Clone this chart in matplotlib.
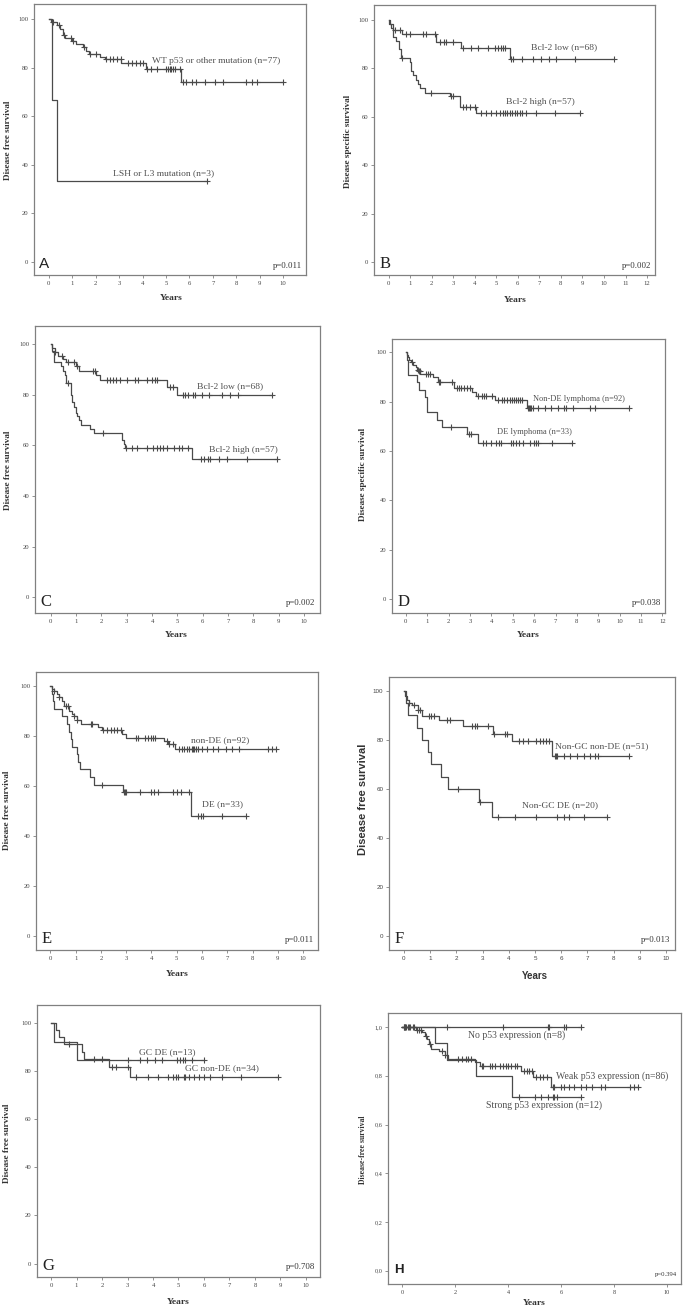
import numpy as np
import matplotlib
matplotlib.use("Agg")
import matplotlib.pyplot as plt

plt.rcParams["font.family"] = ["Liberation Serif", "DejaVu Serif"]

W, H = 685, 1310

# ---------------- data (times in years, survival in %) ----------------
# A: p53 mutation status, disease free survival
A_wt_t = [0.1, 0.35, 0.5, 0.6, 0.7, 1.0, 1.15, 1.45, 1.6, 1.7, 2.2, 2.4, 3.1, 4.15, 5.65]
A_wt_s = [98.7, 97.4, 96.1, 93.5, 92.2, 90.9, 89.6, 88.3, 87.0, 85.7, 84.4, 83.5, 82.0, 79.6, 74.0]
A_wt_end = 10.0
A_wt_c = [0.2, 0.45, 0.65, 0.95, 1.05, 1.5, 1.75, 2.03, 2.43, 2.6, 2.75, 2.89, 3.06, 3.39, 3.53,
          3.74, 3.88, 4.03, 4.17, 4.38, 4.6, 5.02, 5.09, 5.16, 5.23, 5.3, 5.38, 5.59, 5.73, 5.87,
          6.09, 6.3, 6.66, 7.08, 7.41, 8.43, 8.65, 8.9, 10.0]
A_lsh_t = [0.15, 0.33]
A_lsh_s = [66.7, 33.3]
A_lsh_end = 6.75
A_lsh_c = [6.75]

# B: Bcl-2, disease specific survival
B_low_t = [0.05, 0.2, 0.62, 2.21, 3.37, 5.65]
B_low_s = [98.5, 95.9, 94.2, 90.8, 88.6, 83.9]
B_low_end = 10.45
B_low_c = [0.28, 0.51, 0.82, 1.0, 1.6, 1.72, 2.14, 2.37, 2.55, 2.68, 2.99, 3.45, 3.84, 4.15, 4.61,
           4.92, 5.08, 5.23, 5.31, 5.42, 5.7, 5.77, 6.21, 6.7, 7.06, 7.43, 7.79, 8.64, 10.45]
B_high_t = [0.03, 0.1, 0.2, 0.35, 0.5, 0.59, 0.98, 1.05, 1.15, 1.25, 1.35, 1.45, 1.7, 2.83, 3.33, 4.07]
B_high_s = [98.2, 96.5, 93.0, 91.2, 88.0, 84.2, 82.5, 79.0, 77.2, 75.4, 73.5, 71.8, 70.0, 68.4, 64.0, 61.5]
B_high_end = 8.9
B_high_c = [0.62, 1.98, 2.88, 2.99, 3.45, 3.6, 3.8, 4.0, 4.3, 4.53, 4.77, 5.0, 5.15, 5.31, 5.39,
            5.51, 5.62, 5.74, 5.85, 5.98, 6.08, 6.21, 6.39, 6.86, 7.71, 8.9]

# C: Bcl-2, disease free survival
C_low_t = [0.05, 0.15, 0.3, 0.5, 0.6, 1.0, 1.1, 1.8, 1.95, 4.58, 5.0]
C_low_s = [98.5, 97.0, 95.5, 94.0, 92.8, 91.3, 89.5, 88.0, 85.8, 83.2, 80.0]
C_low_end = 8.72
C_low_c = [0.17, 0.43, 0.7, 0.92, 1.05, 1.66, 1.75, 2.21, 2.34, 2.47, 2.58, 2.74, 3.0, 3.33, 3.46,
           3.79, 3.99, 4.12, 4.18, 4.71, 4.84, 5.21, 5.3, 5.43, 5.63, 5.7, 5.96, 6.26, 6.75, 7.08,
           7.41, 8.72]
C_high_t = [0.05, 0.12, 0.4, 0.48, 0.55, 0.62, 0.8, 0.85, 0.92, 0.98, 1.05, 1.12, 1.2, 1.55, 1.7,
            2.8, 2.88, 2.95, 5.57]
C_high_s = [97.5, 93.0, 91.2, 89.5, 87.7, 84.5, 80.0, 77.0, 75.0, 73.0, 71.5, 70.0, 68.1, 66.5,
            64.8, 62.0, 60.5, 59.1, 54.5]
C_high_end = 8.92
C_high_c = [0.67, 2.05, 2.97, 3.2, 3.4, 3.8, 4.05, 4.2, 4.3, 4.45, 4.6, 4.85, 5.05, 5.2, 5.4, 5.95,
            6.05, 6.2, 6.3, 6.65, 6.95, 7.75, 8.92]

# D: DE lymphoma, disease specific survival
D_non_t = [0.03, 0.08, 0.15, 0.25, 0.35, 0.45, 0.5, 0.6, 0.68, 1.25, 1.5, 2.25, 3.1, 3.3, 4.17, 5.65]
D_non_s = [99.0, 98.0, 97.0, 96.0, 95.0, 94.0, 93.0, 92.3, 91.4, 90.0, 87.9, 85.4, 84.0, 82.3,
           80.7, 77.6]
D_non_end = 10.45
D_non_c = [0.3, 0.55, 0.62, 0.66, 0.95, 1.05, 1.15, 1.55, 1.6, 2.15, 2.4, 2.5, 2.6, 2.7, 2.85, 3.0,
           3.35, 3.55, 3.65, 3.75, 4.05, 4.3, 4.5, 4.6, 4.75, 4.85, 4.95, 5.05, 5.15, 5.25, 5.35,
           5.45, 5.7, 5.75, 5.8, 5.85, 5.95, 6.2, 6.5, 6.8, 7.1, 7.4, 7.5, 7.8, 8.6, 8.85, 10.45]
D_de_t = [0.05, 0.1, 0.12, 0.5, 0.59, 0.9, 1.01, 1.45, 1.68, 2.85, 3.36]
D_de_s = [97.0, 94.0, 90.9, 87.9, 84.8, 81.8, 75.8, 72.7, 69.7, 66.7, 63.2]
D_de_end = 7.75
D_de_c = [2.1, 2.95, 3.05, 3.6, 3.75, 4.0, 4.2, 4.35, 4.45, 4.9, 5.0, 5.15, 5.3, 5.5, 5.8, 6.0,
          6.1, 6.2, 6.85, 7.75]

# E: DE, disease free survival
E_non_t = [0.05, 0.15, 0.25, 0.35, 0.45, 0.55, 0.75, 0.85, 0.95, 1.05, 1.2, 1.9, 2.05, 2.85, 3.0,
           4.5, 4.65, 4.95]
E_non_s = [99.0, 98.0, 97.0, 95.5, 94.0, 92.0, 90.0, 89.0, 88.0, 86.5, 84.7, 83.5, 82.3, 81.0,
           79.2, 78.0, 77.0, 75.0]
E_non_end = 8.92
E_non_c = [0.15, 0.35, 0.6, 0.7, 0.95, 1.05, 1.6, 1.65, 2.1, 2.25, 2.4, 2.5, 2.65, 2.8, 3.4, 3.45,
           3.75, 3.85, 4.0, 4.05, 4.15, 4.6, 4.7, 4.85, 5.1, 5.2, 5.3, 5.4, 5.5, 5.6, 5.65, 5.7,
           5.75, 5.85, 6.0, 6.2, 6.45, 6.65, 6.95, 7.2, 7.45, 8.6, 8.75, 8.92]
E_de_t = [0.05, 0.1, 0.15, 0.46, 0.66, 0.75, 0.8, 0.85, 1.05, 1.1, 1.18, 1.55, 1.71, 2.87, 5.55]
E_de_s = [97.0, 94.0, 90.9, 87.9, 84.8, 81.8, 78.8, 75.8, 72.7, 69.7, 66.7, 63.6, 60.6, 57.6, 48.0]
E_de_end = 7.75
E_de_c = [2.05, 2.9, 2.95, 3.0, 3.55, 4.0, 4.1, 4.25, 4.85, 5.0, 5.15, 5.5, 5.85, 5.95, 6.05,
          6.8, 7.75]

# F: non-GC subgroups, disease free survival
F_non_t = [0.05, 0.1, 0.2, 0.3, 0.55, 0.67, 1.34, 2.26, 3.41, 4.11, 5.64]
F_non_s = [98.0, 96.1, 95.0, 94.0, 92.0, 89.9, 88.0, 85.6, 82.5, 79.6, 73.4]
F_non_end = 8.6
F_non_c = [0.2, 0.4, 0.55, 0.6, 0.95, 1.05, 1.15, 1.65, 1.75, 2.6, 2.7, 2.8, 3.2, 3.42, 3.85, 3.95,
           4.4, 4.55, 4.75, 5.05, 5.2, 5.3, 5.4, 5.55, 5.75, 5.8, 5.85, 6.1, 6.35, 6.6, 6.85, 7.1,
           7.3, 7.4, 8.6]
F_de_t = [0.08, 0.15, 0.48, 0.67, 0.93, 1.03, 1.4, 1.69, 2.88, 3.37]
F_de_s = [95.0, 90.0, 85.0, 80.0, 75.0, 70.0, 65.0, 60.0, 54.5, 48.5]
F_de_end = 7.74
F_de_c = [2.05, 2.9, 3.6, 4.25, 5.05, 5.85, 6.1, 6.3, 6.85, 7.74]

# G: GC subgroups, disease free survival
G_de_t = [0.1, 1.02]
G_de_s = [92.3, 84.6]
G_de_end = 6.0
G_de_c = [3.0, 3.5, 3.76, 4.06, 4.37, 4.93, 5.07, 5.17, 5.26, 5.52, 6.0]
G_non_t = [0.2, 0.3, 0.5, 1.22, 1.28, 2.26, 3.1]
G_non_s = [97.1, 94.1, 91.2, 88.2, 85.3, 81.8, 77.5]
G_non_end = 8.92
G_non_c = [0.7, 1.7, 2.0, 2.4, 2.55, 3.0, 3.35, 3.8, 4.2, 4.6, 4.8, 4.9, 5.0, 5.2, 5.25, 5.4, 5.6,
           5.8, 6.0, 6.25, 6.7, 7.45, 8.92]

# H: p53 expression, disease-free survival (proportion)
H_no_t = []
H_no_s = []
H_no_end = 6.75
H_no_c = [0.05, 0.1, 1.7, 3.8, 5.5, 5.55, 6.1, 6.2, 6.75]
H_weak_t = [0.5, 0.75, 0.85, 0.95, 1.02, 1.1, 1.4, 1.6, 1.72, 2.75, 2.95, 4.5, 4.95, 5.6]
H_weak_s = [0.99, 0.98, 0.965, 0.95, 0.93, 0.91, 0.90, 0.885, 0.87, 0.855, 0.84, 0.82, 0.797, 0.756]
H_weak_end = 8.9
H_weak_c = [0.05, 0.1, 0.15, 0.2, 0.25, 0.3, 0.4, 0.45, 0.55, 0.65, 0.7, 0.9, 1.05, 1.5, 1.6, 2.1,
            2.25, 2.4, 2.5, 2.6, 3.0, 3.05, 3.3, 3.4, 3.5, 3.7, 3.8, 3.9, 4.0, 4.1, 4.25, 4.35,
            4.6, 4.7, 4.8, 4.9, 5.05, 5.2, 5.3, 5.45, 5.7, 5.75, 6.0, 6.1, 6.3, 6.5, 6.75, 6.95,
            7.15, 7.5, 7.65, 8.6, 8.75, 8.9]
H_strong_t = [1.22, 1.7, 2.78, 4.13]
H_strong_s = [0.933, 0.867, 0.80, 0.715]
H_strong_end = 6.75
H_strong_c = [4.4, 5.0, 5.25, 5.5, 5.7, 5.75, 5.85, 6.75]

LINE = "#4a4a4a"
FRAME = "#808080"
TXT = "#505050"


def box(l, r, t, b):
    # pixel box -> figure fraction rect
    return [l / W, 1 - b / H, (r - l) / W, (b - t) / H]


def km(ax, t, s, end, cens, start=100.0):
    xs = [0.0] + list(t) + [end]
    ys = [start] + list(s) + [s[-1] if s else start]
    ax.step(xs, ys, where="post", color=LINE, lw=0.9)
    levels = np.array([start] + list(s))
    idx = np.searchsorted(np.array(t, dtype=float), np.array(cens), side="right")
    ax.plot(cens, levels[idx], ls="none", marker="+", ms=4.5, mew=0.8, color=LINE)


def fig_text(x, y, s, **kw):
    fig.text(x / W, 1 - y / H, s, **kw)


fig = plt.figure(figsize=(W / 100, H / 100), dpi=100)

panels = [
    dict(letter="A", box=(34, 306, 4, 275), xlim=(-0.63, 10.97), ylim=(-5.5, 106.2), xmax=10,
         curves=[(A_wt_t, A_wt_s, A_wt_end, A_wt_c), (A_lsh_t, A_lsh_s, A_lsh_end, A_lsh_c)],
         labels=[("WT p53 or other mutation (n=77)", 4.4, 82.7),
                 ("LSH or L3 mutation (n=3)", 2.75, 36.5)],
         p="p=0.011", ylabel="Disease free survival", ylpos=(8, 140), yrpos=(171, 298)),
    dict(letter="B", box=(374, 655, 5, 275), xlim=(-0.68, 12.37), ylim=(-5.4, 106.2), xmax=12,
         curves=[(B_low_t, B_low_s, B_low_end, B_low_c), (B_high_t, B_high_s, B_high_end, B_high_c)],
         labels=[("Bcl-2 low (n=68)", 6.63, 88.7), ("Bcl-2 high (n=57)", 5.46, 66.3)],
         p="p=0.002", ylabel="Disease specific survival", ylpos=(348, 141), yrpos=(515, 300)),
    dict(letter="C", box=(35, 320, 326, 613), xlim=(-0.62, 10.63), ylim=(-6.2, 107.2), xmax=10,
         curves=[(C_low_t, C_low_s, C_low_end, C_low_c), (C_high_t, C_high_s, C_high_end, C_high_c)],
         labels=[("Bcl-2 low (n=68)", 5.76, 83.4), ("Bcl-2 high (n=57)", 6.26, 58.2)],
         p="p=0.002", ylabel="Disease free survival", ylpos=(8, 470), yrpos=(176, 635)),
    dict(letter="D", box=(392, 665, 339, 613), xlim=(-0.65, 12.12), ylim=(-5.7, 105.4), xmax=12,
         curves=[(D_non_t, D_non_s, D_non_end, D_non_c), (D_de_t, D_de_s, D_de_end, D_de_c)],
         labels=[("Non-DE lymphoma (n=92)", 5.93, 81.0), ("DE lymphoma (n=33)", 4.25, 67.5)],
         p="p=0.038", ylabel="Disease specific survival", ylpos=(363, 474), yrpos=(528, 635),
         lfs=6.0),
    dict(letter="E", box=(36, 318, 672, 950), xlim=(-0.57, 10.59), ylim=(-5.6, 105.6), xmax=10,
         curves=[(E_non_t, E_non_s, E_non_end, E_non_c), (E_de_t, E_de_s, E_de_end, E_de_c)],
         labels=[("non-DE (n=92)", 5.55, 78.3), ("DE (n=33)", 5.99, 52.7)],
         p="p=0.011", ylabel="Disease free survival", ylpos=(7, 810), yrpos=(177, 974)),
    dict(letter="F", box=(389, 675, 677, 950), xlim=(-0.57, 10.34), ylim=(-5.7, 105.6), xmax=10,
         curves=[(F_non_t, F_non_s, F_non_end, F_non_c), (F_de_t, F_de_s, F_de_end, F_de_c)],
         labels=[("Non-GC non-DE (n=51)", 5.76, 77.3), ("Non-GC DE (n=20)", 4.49, 53.2)],
         p="p=0.013", ylabel="Disease free survival", ylpos=(363, 799), yrpos=(535, 976),
         sans=True),
    dict(letter="G", box=(37, 320, 1005, 1277), xlim=(-0.55, 10.55), ylim=(-5.6, 107.6), xmax=10,
         curves=[(G_de_t, G_de_s, G_de_end, G_de_c), (G_non_t, G_non_s, G_non_end, G_non_c)],
         labels=[("GC DE (n=13)", 3.47, 87.8), ("GC non-DE (n=34)", 5.26, 81.3)],
         p="p=0.708", ylabel="Disease free survival", ylpos=(7, 1143), yrpos=(178, 1302)),
]

for pnl in panels:
    ax = fig.add_axes(box(*pnl["box"]))
    for t, s, end, c in pnl["curves"]:
        km(ax, t, s, end, c)
    ax.set_xlim(*pnl["xlim"])
    ax.set_ylim(*pnl["ylim"])
    ax.set_xticks(range(0, pnl["xmax"] + 1))
    ax.set_yticks([0, 20, 40, 60, 80, 100])
    for lab, x, y in pnl["labels"]:
        ax.text(x, y, lab, fontsize=pnl.get("lfs", 6.8), color=TXT, va="center", ha="left")
    ax.text(0.985, 0.035, pnl["p"], transform=ax.transAxes, ha="right", va="center",
            fontsize=6.3, color="#333333")
    if pnl["letter"] == "A":
        ax.text(0.02, 0.04, "A", transform=ax.transAxes, ha="left", va="center",
                fontsize=11, family="Liberation Sans", color="#222222")
    else:
        ax.text(0.02, 0.04, pnl["letter"], transform=ax.transAxes, ha="left", va="center",
                fontsize=12, color="#222222")
    if pnl.get("sans"):
        fig_text(*pnl["ylpos"], pnl["ylabel"], rotation=90, ha="center", va="center",
                 fontsize=8, fontweight="bold", family="Liberation Sans", color="#333333")
        fig_text(*pnl["yrpos"], "Years", ha="center", va="center", fontsize=7,
                 fontweight="bold", family="Liberation Sans", color="#333333")
        for lbl in ax.get_xticklabels() + ax.get_yticklabels():
            lbl.set_family("Liberation Sans")
    else:
        fig_text(*pnl["ylpos"], pnl["ylabel"], rotation=90, ha="center", va="center",
                 fontsize=6.6, fontweight="bold", color="#333333")
        fig_text(*pnl["yrpos"], "Years", ha="center", va="center", fontsize=6.8,
                 fontweight="bold", color="#333333")
    for sp in ax.spines.values():
        sp.set_color(FRAME)
        sp.set_linewidth(0.9)
    ax.tick_params(direction="out", length=2.5, width=0.6, color=FRAME,
                   labelsize=4.5 if pnl.get("sans") else 4.8,
                   labelcolor="#444444", pad=1.5)

# H uses proportions and 2-year ticks
axh = fig.add_axes(box(388, 681, 1013, 1284))
km(axh, H_no_t, H_no_s, H_no_end, H_no_c, start=1.0)
km(axh, H_weak_t, H_weak_s, H_weak_end, H_weak_c, start=1.0)
km(axh, H_strong_t, H_strong_s, H_strong_end, H_strong_c, start=1.0)
axh.set_xlim(-0.54, 10.53)
axh.set_ylim(-0.055, 1.058)
axh.set_xticks([0, 2, 4, 6, 8, 10])
axh.set_yticks([0, 0.2, 0.4, 0.6, 0.8, 1.0])
axh.set_yticklabels(["0,0", "0,2", "0,4", "0,6", "0,8", "1,0"])
axh.text(2.49, 0.966, "No p53 expression (n=8)", fontsize=7, color=TXT, va="center")
axh.text(5.81, 0.80, "Weak p53 expression (n=86)", fontsize=7, color=TXT, va="center")
axh.text(3.18, 0.681, "Strong p53 expression (n=12)", fontsize=7, color=TXT, va="center")
axh.text(0.985, 0.035, "p=0.394", transform=axh.transAxes, ha="right", va="center",
         fontsize=4.8, color="#333333")
axh.text(0.02, 0.05, "H", transform=axh.transAxes, ha="left", va="center", fontsize=9.5,
         fontweight="bold", family="Liberation Sans", color="#222222")
fig_text(363, 1150, "Disease-free survival", rotation=90, ha="center", va="center",
         fontsize=5.6, fontweight="bold", color="#333333")
fig_text(534, 1303, "Years", ha="center", va="center", fontsize=6.8, fontweight="bold",
         color="#333333")
for sp in axh.spines.values():
    sp.set_color(FRAME)
    sp.set_linewidth(0.9)
axh.tick_params(direction="out", length=2.5, width=0.6, color=FRAME, labelsize=4.5,
                labelcolor="#444444", pad=1.5)

fig.savefig("out.png", dpi=100, facecolor="white")
